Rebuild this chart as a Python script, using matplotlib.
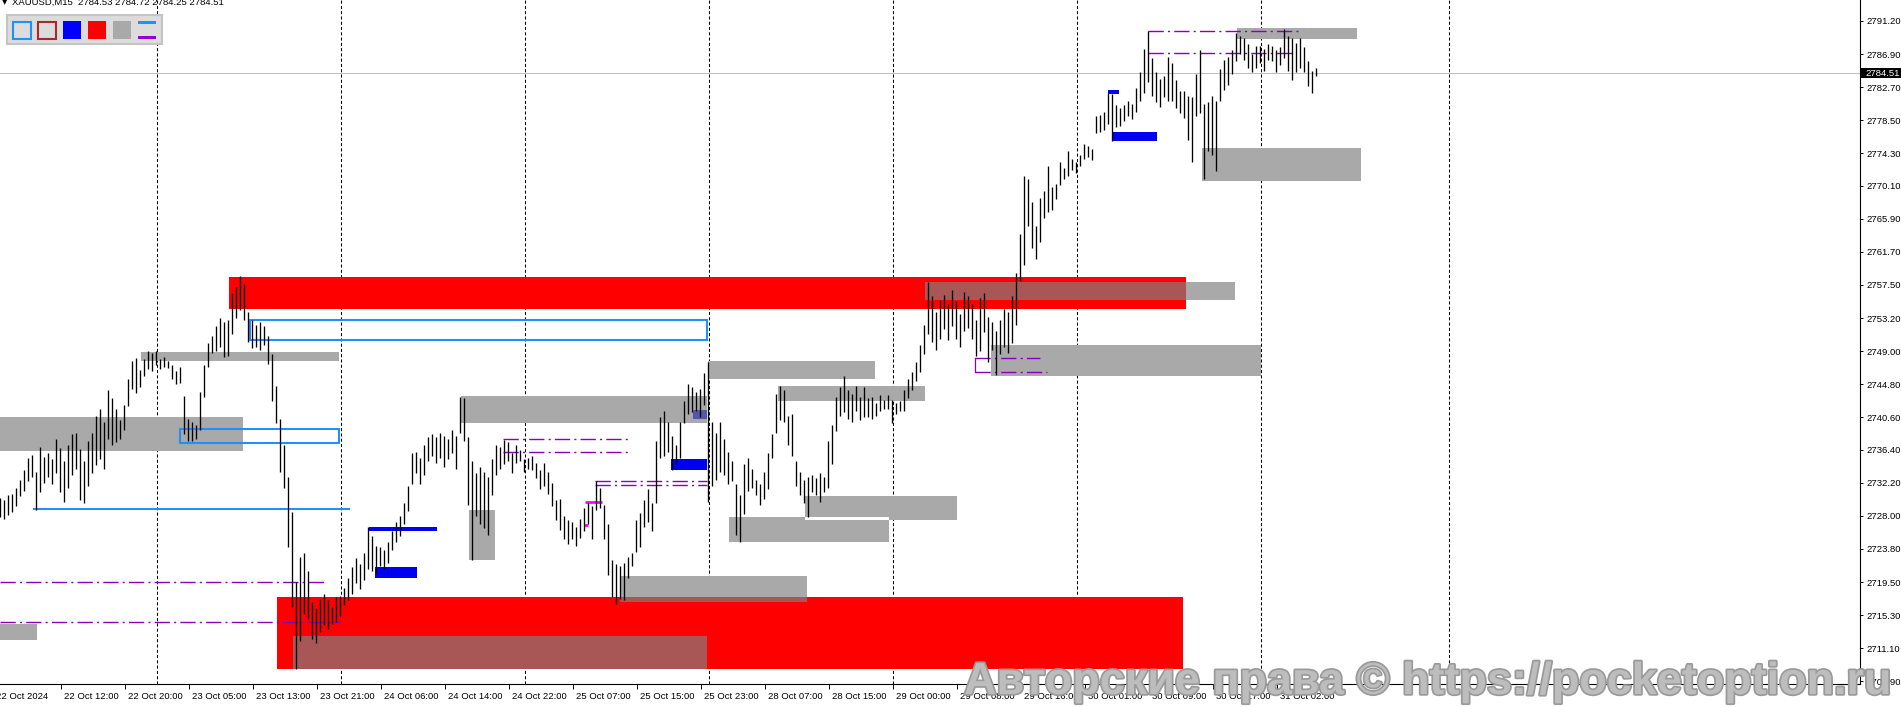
import matplotlib
matplotlib.use("Agg")
import matplotlib.pyplot as plt
from matplotlib.patches import Rectangle
from matplotlib.transforms import Affine2D
import matplotlib.patheffects as pe

plt.rcParams['font.family'] = ['Liberation Sans', 'DejaVu Sans']
plt.rcParams['lines.scale_dashes'] = False

# ---------------- data (bar index = 15-minute bars from left edge) ----------------
bar_step = 2
highs = [
    2730.3, 2730.0, 2730.6, 2730.8, 2731.6, 2732.6, 2733.8, 2735.4, 2735.8, 2733.6,
    2736.8, 2735.5, 2736.0, 2735.2, 2737.8, 2736.6, 2735.0, 2737.0, 2738.4, 2738.6,
    2736.5, 2735.0, 2737.5, 2738.6, 2740.8, 2741.6, 2740.0, 2744.0, 2743.0, 2741.6,
    2740.2, 2742.2, 2745.5, 2747.8, 2748.2, 2746.6, 2748.0, 2749.0, 2748.8, 2749.0,
    2748.0, 2748.3, 2747.8, 2747.2, 2746.5, 2747.0, 2743.3, 2740.4, 2740.0, 2739.6,
    2743.8, 2747.2, 2750.0, 2751.0, 2752.2, 2753.2, 2752.8, 2753.0, 2756.4, 2757.2,
    2758.6, 2757.6, 2754.0, 2753.0, 2752.4, 2752.8, 2752.2, 2751.0, 2748.6, 2744.6,
    2740.4, 2737.0, 2733.0, 2728.5, 2719.6, 2722.8, 2723.2, 2721.0, 2717.0, 2716.2,
    2717.4, 2718.0, 2717.2, 2716.4, 2717.6, 2717.8, 2718.8, 2720.0, 2721.4, 2722.6,
    2721.8, 2723.2, 2726.6, 2725.4, 2724.2, 2724.0, 2723.6, 2724.6, 2726.0, 2727.2,
    2728.0, 2729.6, 2731.8, 2736.0, 2736.2, 2735.4, 2737.0, 2738.0, 2738.4, 2738.0,
    2738.6, 2738.2, 2737.8, 2739.0, 2738.2, 2743.2, 2743.0, 2738.0, 2735.0, 2733.4,
    2734.2, 2733.6, 2733.0, 2735.2, 2737.0, 2736.8, 2737.7, 2737.4, 2736.0, 2737.0,
    2736.4, 2735.2, 2735.4, 2735.6, 2734.8, 2733.8, 2734.8, 2733.6, 2732.2, 2730.0,
    2730.2, 2728.0, 2727.4, 2727.2, 2726.6, 2727.6, 2729.0, 2729.6, 2729.2, 2732.4,
    2731.6, 2729.4, 2727.0, 2722.4, 2721.8, 2721.6, 2722.0, 2722.8, 2723.2, 2727.4,
    2728.4, 2730.0, 2731.4, 2729.6, 2737.6, 2740.6, 2741.4, 2740.0, 2738.2, 2737.0,
    2740.0, 2742.6, 2744.8, 2744.4, 2743.8, 2744.2, 2746.2, 2747.6, 2740.0, 2738.6,
    2740.0, 2737.8, 2736.2, 2735.0, 2732.0, 2730.6, 2734.6, 2735.4, 2734.0, 2732.6,
    2732.0, 2733.6, 2736.0, 2738.4, 2743.6, 2744.6, 2744.0, 2740.8, 2741.0, 2735.0,
    2733.6, 2732.6, 2733.0, 2733.2, 2732.8, 2733.4, 2733.0, 2737.6, 2739.6, 2743.2,
    2744.4, 2745.8, 2744.0, 2743.6, 2744.6, 2743.2, 2744.4, 2743.0, 2743.2, 2742.4,
    2743.4, 2742.8, 2743.4, 2742.8, 2742.4, 2742.6, 2744.0, 2745.4, 2746.4, 2747.6,
    2749.8, 2752.4, 2757.8, 2756.0, 2754.0, 2755.6, 2756.2, 2755.0, 2756.8, 2755.4,
    2753.8, 2756.6, 2756.0, 2755.0, 2753.0, 2755.8, 2756.4, 2753.4, 2752.8, 2751.6,
    2753.0, 2754.4, 2754.0, 2756.0, 2759.0, 2764.0, 2771.4, 2771.0, 2768.0, 2765.0,
    2768.6, 2769.4, 2772.6, 2770.0, 2770.4, 2773.2, 2772.4, 2774.6, 2773.6, 2773.2,
    2774.0, 2775.4, 2775.2, 2774.8, 2779.0, 2779.2, 2779.6, 2782.0, 2781.8, 2780.4,
    2780.0, 2780.4, 2781.0, 2780.6, 2782.6, 2784.6, 2787.6, 2789.9, 2786.4, 2784.6,
    2783.8, 2784.2, 2786.6, 2785.8, 2783.6, 2782.2, 2782.2, 2781.6, 2781.4, 2784.4,
    2787.4, 2780.6, 2780.8, 2781.6, 2781.0, 2785.0, 2786.2, 2786.6, 2787.4, 2789.6,
    2789.2, 2789.0, 2788.2, 2787.0, 2788.0, 2788.0, 2787.6, 2788.2, 2788.0, 2787.4,
    2787.8, 2790.2, 2789.2, 2789.0, 2788.4, 2789.0, 2787.8, 2786.0, 2784.8, 2785.2,
]
lows = [
    2727.9, 2727.6, 2728.1, 2728.5, 2729.3, 2730.5, 2731.2, 2732.4, 2733.0, 2728.8,
    2731.0, 2732.2, 2733.0, 2732.0, 2733.5, 2731.0, 2729.8, 2731.5, 2733.2, 2734.0,
    2730.0, 2729.6, 2731.8, 2733.5, 2734.5, 2735.2, 2734.0, 2737.8, 2737.0, 2737.4,
    2737.8, 2739.0, 2742.0, 2744.2, 2743.7, 2744.5, 2745.8, 2746.8, 2746.5, 2747.2,
    2746.8, 2747.0, 2746.9, 2745.5, 2744.8, 2745.0, 2738.4, 2737.6, 2737.6, 2737.8,
    2739.0, 2743.2, 2747.0, 2748.8, 2749.0, 2749.5, 2748.3, 2748.4, 2751.2, 2753.2,
    2754.3, 2753.0, 2750.2, 2749.4, 2749.6, 2749.2, 2749.8, 2747.4, 2742.6, 2739.8,
    2733.6, 2731.5, 2724.0, 2716.4, 2708.5, 2712.0, 2715.5, 2714.8, 2712.3, 2711.8,
    2713.2, 2714.0, 2713.6, 2714.2, 2714.4, 2715.2, 2716.6, 2717.2, 2718.0, 2719.4,
    2718.6, 2719.8, 2721.2, 2721.0, 2720.6, 2721.6, 2721.2, 2722.0, 2723.6, 2724.6,
    2725.4, 2727.0, 2728.6, 2732.0, 2733.4, 2732.0, 2733.2, 2735.0, 2735.6, 2734.8,
    2735.4, 2734.2, 2735.2, 2736.0, 2734.0, 2738.6, 2737.6, 2729.4, 2722.4, 2728.0,
    2727.0, 2726.4, 2725.6, 2730.6, 2733.2, 2734.0, 2734.6, 2735.0, 2733.4, 2734.8,
    2735.0, 2733.6, 2734.0, 2733.8, 2732.8, 2731.4, 2731.8, 2730.8, 2729.2, 2727.4,
    2726.2, 2725.0, 2724.4, 2725.0, 2724.2, 2725.2, 2726.0, 2727.0, 2725.0, 2728.8,
    2729.0, 2725.0, 2720.4, 2717.6, 2716.8, 2717.4, 2717.2, 2720.0, 2721.6, 2723.4,
    2724.0, 2726.6, 2727.2, 2726.0, 2729.6, 2735.4, 2735.6, 2736.2, 2733.8, 2734.6,
    2735.4, 2739.8, 2741.0, 2741.2, 2741.4, 2740.6, 2742.2, 2729.8, 2731.8, 2732.6,
    2733.6, 2733.2, 2732.0, 2732.4, 2725.6, 2724.6, 2728.2, 2731.2, 2731.6, 2730.6,
    2729.4, 2730.2, 2731.4, 2735.4, 2738.6, 2740.2, 2740.0, 2737.0, 2735.6, 2731.8,
    2730.6, 2729.6, 2727.8, 2731.0, 2730.6, 2729.8, 2731.0, 2731.6, 2734.6, 2738.8,
    2740.8, 2741.2, 2740.4, 2740.0, 2741.4, 2740.2, 2740.6, 2740.6, 2740.4, 2740.8,
    2741.4, 2741.6, 2741.6, 2739.8, 2741.0, 2741.4, 2741.4, 2743.0, 2744.0, 2745.2,
    2746.4, 2748.6, 2751.2, 2750.2, 2749.2, 2750.6, 2751.8, 2750.4, 2752.2, 2750.6,
    2749.6, 2751.6, 2752.0, 2750.6, 2748.4, 2749.0, 2751.4, 2747.6, 2749.2, 2746.0,
    2748.6, 2749.6, 2748.8, 2750.0, 2752.4, 2758.0, 2760.0, 2765.0, 2762.2, 2760.8,
    2763.0, 2766.0, 2766.8, 2767.0, 2768.4, 2770.2, 2771.0, 2771.4, 2772.2, 2771.8,
    2772.6, 2773.6, 2773.8, 2773.4, 2776.8, 2777.0, 2777.2, 2778.0, 2775.8, 2777.6,
    2777.8, 2778.4, 2779.0, 2778.6, 2779.6, 2781.0, 2782.0, 2783.4, 2781.6, 2780.8,
    2780.2, 2781.4, 2781.0, 2781.0, 2780.0, 2779.4, 2778.8, 2776.0, 2773.2, 2779.0,
    2779.4, 2771.0, 2774.6, 2774.0, 2772.0, 2781.0, 2782.4, 2783.0, 2784.4, 2786.0,
    2787.0, 2786.2, 2785.2, 2784.6, 2785.2, 2785.8, 2784.8, 2786.2, 2786.0, 2784.6,
    2785.6, 2786.4, 2784.8, 2783.6, 2784.6, 2785.2, 2784.6, 2782.8, 2782.0, 2784.2,
]
bar_index = [bar_step * k for k in range(len(highs))]

current_price = 2784.51
header_text = "XAUUSD,M15  2784.53 2784.72 2784.25 2784.51"

price_ticks = [2791.20, 2786.90, 2782.70, 2778.50, 2774.30, 2770.10, 2765.90, 2761.70,
               2757.50, 2753.20, 2749.00, 2744.80, 2740.60, 2736.40, 2732.20, 2728.00,
               2723.80, 2719.50, 2715.30, 2711.10, 2706.90]
first_time_label = "22 Oct 2024"
time_labels = ["22 Oct 12:00", "22 Oct 20:00", "23 Oct 05:00", "23 Oct 13:00",
               "23 Oct 21:00", "24 Oct 06:00", "24 Oct 14:00", "24 Oct 22:00", "25 Oct 07:00",
               "25 Oct 15:00", "25 Oct 23:00", "28 Oct 07:00", "28 Oct 15:00", "29 Oct 00:00",
               "29 Oct 08:00", "29 Oct 16:00", "30 Oct 01:00", "30 Oct 09:00", "30 Oct 17:00",
               "31 Oct 02:00"]
time_label_bars = [30.7, 62.7, 94.7, 126.7, 158.7, 190.7, 222.7, 254.7, 286.7, 318.7,
                   350.7, 382.7, 414.7, 446.7, 478.7, 510.7, 542.7, 574.7, 606.7, 638.7]
separator_bars = [78.7, 170.7, 262.7, 354.7, 446.7, 538.7, 630.7, 724.7]

# zones: (bar_start, bar_end, price_low, price_high)
red_zones = [(114.6, 593.0, 2754.40, 2758.45),
             (138.5, 591.5, 2708.45, 2717.60)]
grey_zones = [(0.0, 121.3, 2736.30, 2740.57), (70.5, 169.5, 2747.70, 2748.90),
              (0.0, 18.3, 2712.20, 2714.20), (146.7, 353.4, 2708.45, 2712.70),
              (230.7, 353.4, 2739.85, 2743.30), (234.5, 247.5, 2722.30, 2728.70),
              (310.0, 403.3, 2717.00, 2720.30), (354.2, 437.5, 2745.50, 2747.75),
              (389.0, 462.5, 2742.70, 2744.55), (364.5, 444.5, 2724.60, 2727.90),
              (402.5, 478.3, 2727.50, 2730.50), (495.5, 630.5, 2745.80, 2749.80),
              (600.8, 680.5, 2770.70, 2774.90), (618.3, 678.3, 2788.85, 2790.30),
              (462.5, 617.7, 2755.60, 2757.80)]
blue_zones = [(184.7, 218.3, 2726.00, 2726.60), (187.5, 208.3, 2720.00, 2721.50),
              (335.5, 353.3, 2733.80, 2735.20), (553.8, 559.5, 2781.90, 2782.30),
              (556.7, 578.3, 2775.80, 2777.00), (346.7, 353.3, 2740.40, 2741.50)]
blue_boxes = [(125.0, 353.3, 2750.43, 2752.95), (90.0, 169.7, 2737.30, 2739.10)]
blue_lines = [(16.7, 175.0, 2728.83)]
purple_lines = [(0.0, 163.0, 2719.60), (0.0, 170.0, 2714.50),
                (251.7, 315.0, 2737.76), (251.7, 315.0, 2736.20),
                (297.5, 353.3, 2732.50), (297.5, 353.3, 2731.96),
                (487.5, 520.0, 2748.10), (487.5, 523.3, 2746.30),
                (573.8, 649.5, 2789.87), (573.8, 647.0, 2787.05)]
purple_brackets = [(487.5, 2746.30, 2748.10)]
magenta_lines = [(292.5, 300.8, 2729.80), (292.0, 294.0, 2726.80)]

RED, GREY, BLUE = '#ff0000', '#a9a9a9', '#0000f0'
DODGER, PURPLE = '#1e90ff', '#8a00b4'

# ---------------- figure ----------------
W, H = 1901, 707
fig = plt.figure(figsize=(W / 100, H / 100), dpi=100)
fig.patch.set_facecolor('white')
AX_R, AX_B = 1860, 684
Y_TOP = 2793.84
PX_PER = 7.834
Y_BOT = Y_TOP - AX_B / PX_PER
ax = fig.add_axes([0, (H - AX_B) / H, AX_R / W, AX_B / H])
ax.set_facecolor('white')
PX = Affine2D().scale(1, -1).translate(0, H)


def ypx(p):
    return (Y_TOP - p) * PX_PER


def hex2rgb(c):
    c = c.lstrip('#')
    return [int(c[k:k + 2], 16) for k in (0, 2, 4)]


def notxor(c1, c2):
    a, b = hex2rgb(c1), hex2rgb(c2)
    return '#' + ''.join('%02x' % (255 - (x ^ y)) for x, y in zip(a, b))


filled = [(z, RED) for z in red_zones] + [(z, GREY) for z in grey_zones] + [(z, BLUE) for z in blue_zones]
for (x0, x1, p0, p1), c in filled:
    ax.add_patch(Rectangle((x0, p0), x1 - x0, p1 - p0, facecolor=c, edgecolor='none', lw=0, zorder=1))
# overlapping background objects combine like MT4 (not-xor)
for a in range(len(filled)):
    for b in range(a + 1, len(filled)):
        (ax0, ax1, ap0, ap1), ca = filled[a]
        (bx0, bx1, bp0, bp1), cb = filled[b]
        x0, x1 = max(ax0, bx0), min(ax1, bx1)
        p0, p1 = max(ap0, bp0), min(ap1, bp1)
        if x1 > x0 and p1 > p0:
            ax.add_patch(Rectangle((x0, p0), x1 - x0, p1 - p0, facecolor=notxor(ca, cb),
                                   edgecolor='none', lw=0, zorder=1.5))

for (x0, x1, p0, p1) in blue_boxes:
    ax.add_patch(Rectangle((x0, p0), x1 - x0, p1 - p0, facecolor='none', edgecolor=DODGER,
                           lw=1.5, zorder=2))
for (x0, x1, p) in blue_lines:
    ax.plot([x0, x1], [p, p], color=DODGER, lw=1.5, zorder=2, solid_capstyle='butt')
for (x0, x1, p) in purple_lines:
    ax.plot([x0, x1], [p, p], color=PURPLE, lw=1.0, zorder=2,
            linestyle=(0, (11.0, 3.0, 1.5, 3.0)))
for (x, p0, p1) in purple_brackets:
    ax.plot([x, x], [p0, p1], color=PURPLE, lw=0.9, zorder=2)
for (x0, x1, p) in magenta_lines:
    ax.plot([x0, x1], [p, p], color='#ff00ff', lw=2.0, zorder=2, solid_capstyle='butt')

# day separators
for s in separator_bars:
    ax.axvline(s, color='black', lw=0.75, linestyle=(0, (2.2, 1.6)), zorder=0.8)
# current price line
ax.axhline(current_price, color='#c0c0c0', lw=0.75, zorder=0.6)

# price bars
ax.vlines(bar_index, lows, highs, colors='black', linewidth=0.95, zorder=3, antialiased=True)

# axes styling
for side in ('left', 'top'):
    ax.spines[side].set_visible(False)
for side in ('right', 'bottom'):
    ax.spines[side].set_color('black')
    ax.spines[side].set_linewidth(0.8)
ax.yaxis.tick_right()
ax.set_yticks(price_ticks)
ax.set_yticklabels(['%.2f' % v for v in price_ticks])
ax.tick_params(axis='y', length=2.5, width=0.7, pad=2, labelsize=6.8, direction='out', colors='black')
ax.set_xticks(time_label_bars)
ax.set_xticklabels([])
ax.tick_params(axis='x', length=3.5, width=0.7, direction='out')
# limits set after ticks so the ticks cannot widen them
ax.set_xlim(0, AX_R / 2)
ax.set_ylim(Y_BOT, Y_TOP)

fig.text(-4, 699, first_time_label, transform=PX, fontsize=6.8, color='black', ha='left', va='baseline')
for lbl, b in zip(time_labels, time_label_bars):
    fig.text(2 * b + 3, 699, lbl, transform=PX, fontsize=6.8, color='black', ha='left', va='baseline')

# current price tag
yc = ypx(current_price)
fig.add_artist(Rectangle((1861, yc - 5), 40, 10, transform=PX, facecolor='black', edgecolor='none'))
fig.text(1865, yc + 3.4, '%.2f' % current_price, transform=PX, fontsize=6.8, color='white',
         ha='left', va='baseline')

# header
fig.text(2, 4.5, '▼', transform=PX, fontsize=5, color='black', ha='left', va='baseline',
         family=['DejaVu Sans'])
fig.text(12, 4.5, header_text, transform=PX, fontsize=6.8, color='black', ha='left', va='baseline')

# legend panel
fig.add_artist(Rectangle((6.5, 15), 155, 29, transform=PX, facecolor='#dcdcdc', edgecolor='#c4c4c4', lw=1.5))
fig.add_artist(Rectangle((13, 21.5), 18, 17, transform=PX, facecolor='#dcdcdc', edgecolor=DODGER, lw=1.5))
fig.add_artist(Rectangle((38, 21.5), 18, 17, transform=PX, facecolor='#dcdcdc', edgecolor='#a52a2a', lw=1.5))
fig.add_artist(Rectangle((62.7, 20.7), 18.5, 18.6, transform=PX, facecolor='#0000ff', edgecolor='none'))
fig.add_artist(Rectangle((87.7, 20.7), 18.5, 18.6, transform=PX, facecolor='#ff0000', edgecolor='none'))
fig.add_artist(Rectangle((112.7, 20.7), 18.5, 18.6, transform=PX, facecolor='#a9a9a9', edgecolor='none'))
fig.add_artist(Rectangle((137.7, 21), 18.5, 3.3, transform=PX, facecolor=DODGER, edgecolor='none'))
fig.add_artist(Rectangle((137.7, 36), 18.5, 3.3, transform=PX, facecolor='#9400d3', edgecolor='none'))

# watermark
wm = fig.text(964, 694, "Авторские права © https://pocketoption.ru", transform=PX, fontsize=30,
              fontweight='bold', color='#bdbdbd', ha='left', va='baseline',
              path_effects=[pe.withStroke(linewidth=2.5, foreground='#9a9a9a')])
fig.canvas.draw()
bb = wm.get_window_extent()
wm.set_fontsize(30 * 927.0 / bb.width)

fig.savefig('out.png', dpi=100, facecolor='white')
